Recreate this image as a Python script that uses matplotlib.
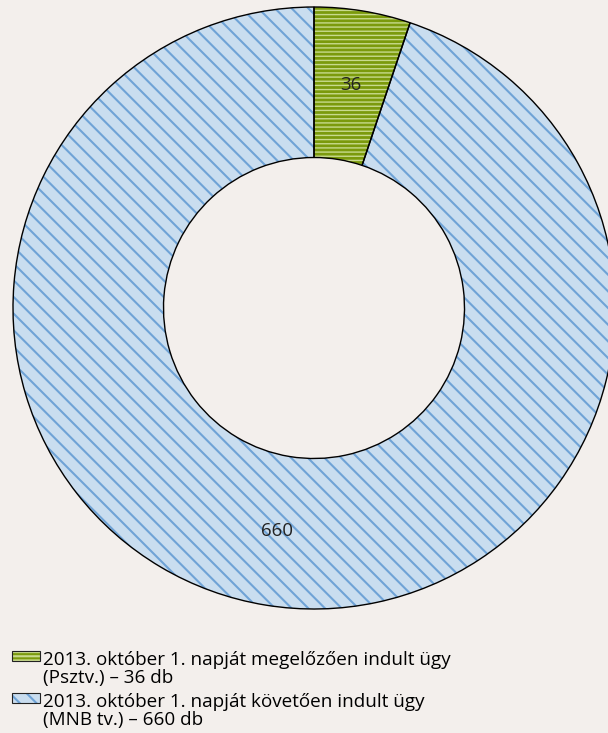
import matplotlib.pyplot as plt
from matplotlib.patches import Patch
from matplotlib.legend_handler import HandlerTuple

# adatok
labels = ["2013. október 1. napját megelőzően indult ügy\n(Psztv.) – 36 db",
          "2013. október 1. napját követően indult ügy\n(MNB tv.) – 660 db"]
values = [36, 660]
face_colors = ["#7b9a0c", "#c9ddef"]
hatch_colors = ["#c8da8c", "#6fa3d6"]
hatches = ["----", "\\\\"]
hatch_widths = [1.0, 1.5]

bg = "#f3efec"
W, H = 608, 733
plt.rcParams["font.family"] = ["Open Sans", "DejaVu Sans"]
plt.rcParams["hatch.linewidth"] = 1.5

fig = plt.figure(figsize=(W / 100, H / 100), dpi=100, facecolor=bg)
# a gyűrű: középpont kb. (314, 308), sugár kb. 301 px
ax = fig.add_axes([13 / W, 1 - 609 / H, 602 / W, 602 / H])
ax.set_facecolor(bg)

# első réteg: kitöltés és sraffozás
wedges, texts = ax.pie(values, startangle=90, counterclock=False,
                       colors=face_colors, labels=[str(v) for v in values],
                       labeldistance=0.75,
                       wedgeprops=dict(width=0.5, linewidth=0),
                       textprops=dict(fontsize=13.5, color="#222222",
                                      ha="center", va="center"))
for w, h, hc, hw in zip(wedges, hatches, hatch_colors, hatch_widths):
    w.set_hatch(h)
    w.set_edgecolor(hc)
    if hasattr(w, "set_hatch_linewidth"):
        w.set_hatch_linewidth(hw)

# második réteg: fekete körvonal
ax.pie(values, startangle=90, counterclock=False,
       wedgeprops=dict(width=0.5, linewidth=1.0, edgecolor="black", fill=False))
ax.set_xlim(-1, 1)
ax.set_ylim(-1, 1)
ax.axis("off")

handles = []
for fc, hc, h, hw in zip(face_colors, hatch_colors, hatches, hatch_widths):
    p1 = Patch(facecolor=fc, edgecolor=hc, hatch=h, linewidth=0)
    if hasattr(p1, "set_hatch_linewidth"):
        p1.set_hatch_linewidth(hw)
    p2 = Patch(fill=False, edgecolor="#222222", linewidth=0.8)
    handles.append((p1, p2))

leg = fig.legend(handles, labels, loc="upper left",
                 bbox_to_anchor=(12 / W, 1 - 651 / H),
                 frameon=False, fontsize=13.6, handlelength=1.48, handleheight=0.45,
                 handletextpad=0.16, labelspacing=0.3, borderaxespad=0, borderpad=0,
                 handler_map={tuple: HandlerTuple(ndivide=1, pad=0)})
for t in leg.get_texts():
    t.set_linespacing(1.0)
for col in leg._legend_handle_box.get_children():
    for row in col.get_children():
        row.align = "top"

fig.savefig("out.png", dpi=100, facecolor=bg)
